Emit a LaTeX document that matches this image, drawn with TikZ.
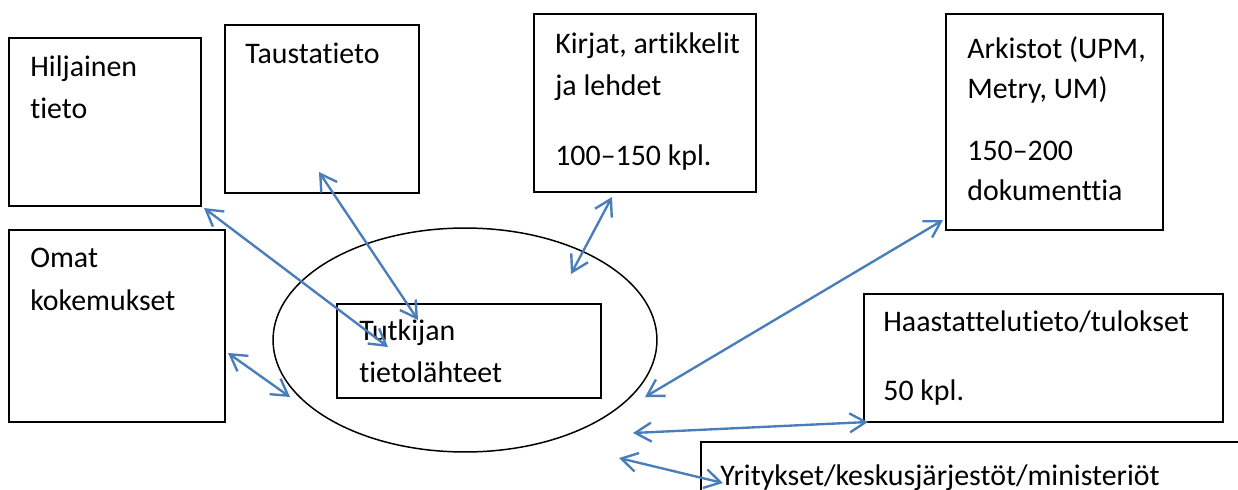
\documentclass[tikz,border=0pt]{standalone}
\usepackage{fontspec}
\setmainfont{Carlito}[Ligatures={TeX,NoCommon}]
\usepackage{tikz}
\usetikzlibrary{shapes.geometric, arrows.meta}
\definecolor{nuolensini}{HTML}{4A7EBB}
\tikzstyle{arrow} = [line width=1.35pt,draw=nuolensini,line cap=round,{Straight Barb[length=3.2mm,width=3.8mm]}-{Straight Barb[length=3.2mm,width=3.8mm]}]
\tikzstyle{laatikko} = [draw,line width=1.1pt,anchor=north west,inner sep=0pt]
\tikzstyle{teksti} = [anchor=base west,inner sep=0pt,font=\fontsize{17}{20}\selectfont]

\begin{document}
\begin{tikzpicture}[x=0.02cm,y=-0.02cm]
\clip (0,0) rectangle (1238,490);
% laatikot
\node[laatikko,minimum width=3.84cm,minimum height=3.36cm] (hiljainen) at (8,37) {};
\node[laatikko,minimum width=3.88cm,minimum height=3.36cm] (tausta) at (224,24) {};
\node[laatikko,minimum width=4.45cm,minimum height=3.56cm] (kirjat) at (533,13) {};
\node[laatikko,minimum width=4.35cm,minimum height=4.32cm] (arkistot) at (945,13) {};
\node[laatikko,minimum width=4.32cm,minimum height=3.84cm] (omat) at (8,229) {};
\node[draw,ellipse,line width=0.85pt,minimum width=7.68cm,minimum height=4.48cm] (tutkija) at (465,340) {};
\node[laatikko,minimum width=5.28cm,minimum height=1.88cm] (lahteet) at (336,303) {};
\node[laatikko,minimum width=7.18cm,minimum height=2.56cm] (haastattelu) at (863,293) {};
\node[laatikko,minimum width=11.2cm,minimum height=1.6cm] (yritykset) at (700,441) {};
% tekstit
\node[teksti] (hiljainen1) at (30,76) {Hiljainen};
\node[teksti] (hiljainen2) at (30,118) {tieto};
\node[teksti] (tausta1) at (245,63) {Taustatieto};
\node[teksti] (kirjat1) at (555,53) {Kirjat, artikkelit};
\node[teksti] (kirjat2) at (555,95) {ja lehdet};
\node[teksti] (kirjat3) at (555,165) {100–150 kpl.};
\node[teksti] (arkistot1) at (967,58) {Arkistot (UPM,};
\node[teksti] (arkistot2) at (967,98) {Metry, UM)};
\node[teksti] (arkistot3) at (967,160) {150–200};
\node[teksti] (arkistot4) at (967,200) {dokumenttia};
\node[teksti] (omat1) at (30,267) {Omat};
\node[teksti] (omat2) at (30,310) {kokemukset};
\node[teksti] (lahteet1) at (359,340) {Tutkijan};
\node[teksti] (lahteet2) at (359,382) {tietolähteet};
\node[teksti] (haastattelu1) at (883,331) {Haastattelutieto/tulokset};
\node[teksti] (haastattelu2) at (883,400) {50 kpl.};
\node[teksti] (yritykset1) at (720,485) {Yritykset/keskusjärjestöt/ministeriöt};
% nuolten päät
\coordinate (hilj-p) at (204,208);
\coordinate (tutk-a) at (388,347);
\coordinate (taus-p) at (319,172);
\coordinate (tutk-b) at (418,320);
\coordinate (kirj-p) at (612,197);
\coordinate (ell-a) at (571,274);
\coordinate (ark-p) at (943,220);
\coordinate (ell-b) at (645,397);
\coordinate (omat-p) at (228,353);
\coordinate (ell-c) at (290,397);
\coordinate (haas-p) at (868,422);
\coordinate (ell-d) at (633,433);
\coordinate (ell-e) at (619,458);
\coordinate (yrit-p) at (723,483);
% nuolet
\draw[arrow] (hilj-p) -- (tutk-a);
\draw[arrow] (taus-p) -- (tutk-b);
\draw[arrow] (kirj-p) -- (ell-a);
\draw[arrow] (ark-p) -- (ell-b);
\draw[arrow] (omat-p) -- (ell-c);
\draw[arrow] (haas-p) -- (ell-d);
\draw[arrow] (ell-e) -- (yrit-p);
\end{tikzpicture}
\end{document}
